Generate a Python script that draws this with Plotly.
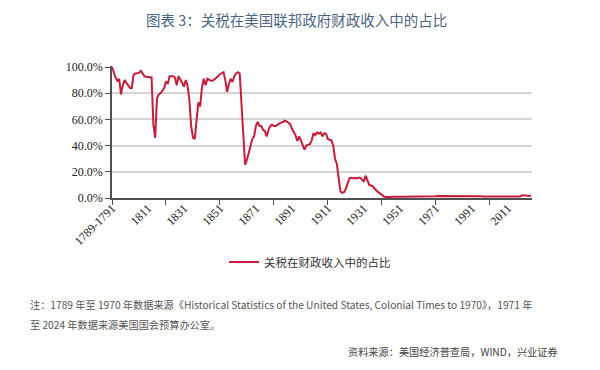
import plotly.graph_objects as go

# ---------------- data ----------------
first_year = 1791
last_year = 2024
years = list(range(first_year, last_year + 1))
category_labels = ["1789-1791"] + [str(y) for y in range(first_year + 1, last_year + 1)]

share_1791_1830 = [100, 95, 92, 89, 91, 79, 86, 90, 88, 85.5,
                   84, 84, 94, 95, 95, 95.5, 97, 95, 93, 92.5,
                   92.5, 92, 92, 56, 46, 76, 79, 80, 82, 84,
                   89, 87, 93, 93, 93, 92, 86, 93, 91, 88]
share_1831_1870 = [85, 90, 86, 75, 55, 46, 45, 58, 73, 70,
                   84, 91, 86, 91, 90, 89.5, 89.5, 90.5, 91.5, 93,
                   94.5, 95.5, 96, 90, 81, 87, 91, 88.5, 93, 95,
                   96, 95, 72, 46, 25.5, 29, 34, 38, 45, 47]
share_1871_1910 = [55, 58, 55, 55, 52, 51, 47, 52, 55, 56,
                   55, 55, 56, 57, 57.5, 58, 59, 58.5, 57.5, 56.5,
                   53, 50.5, 48, 43.5, 47, 44, 40, 37, 40, 40.5,
                   41, 44, 49.5, 48, 50, 49, 50, 47, 49.5, 49]
share_1911_1950 = [45, 44.5, 44, 40, 30, 26, 17, 5, 4, 4.5,
                   7, 12, 15, 15.5, 15, 15.5, 15, 15.5, 15.5, 14,
                   12.5, 17, 13, 10, 9.5, 9, 7, 5.5, 4.5, 3.5,
                   2.2, 1.3, 0.8, 0.7, 0.7, 0.8, 1.0, 1.1, 1.0, 1.1]
share_1951_1990 = [1.0, 0.9, 0.9, 0.9, 0.9, 1.0, 1.0, 1.0, 1.0, 1.2,
                   1.1, 1.2, 1.2, 1.2, 1.3, 1.4, 1.3, 1.3, 1.2, 1.2,
                   1.4, 1.5, 1.5, 1.3, 1.4, 1.3, 1.5, 1.5, 1.4, 1.4,
                   1.3, 1.4, 1.4, 1.7, 1.7, 1.8, 1.8, 1.8, 1.7, 1.7]
share_1991_2024 = [1.6, 1.6, 1.6, 1.6, 1.4, 1.3, 1.2, 1.1, 1.1, 1.0,
                   1.0, 1.0, 1.1, 1.2, 1.2, 1.0, 1.1, 1.1, 1.1, 1.2,
                   1.2, 1.2, 1.1, 1.1, 1.1, 1.1, 1.0, 1.2, 2.1, 2.0,
                   2.1, 2.0, 1.7, 1.6]

tariff_share = (share_1791_1830 + share_1831_1870 + share_1871_1910 +
                share_1911_1950 + share_1951_1990 + share_1991_2024)
assert len(tariff_share) == len(years)

label_years = [1791, 1811, 1831, 1851, 1871, 1891, 1911, 1931, 1951, 1971, 1991, 2011]
label_text = [category_labels[years.index(y)] for y in label_years]
tickmark_years = [1791, 1821, 1851, 1881, 1911, 1941, 1971, 2001]
y_ticks = [0, 20, 40, 60, 80, 100]
y_tick_text = ["0.0%", "20.0%", "40.0%", "60.0%", "80.0%", "100.0%"]

series_name = "关税在财政收入中的占比"
title_text = "图表 3：关税在美国联邦政府财政收入中的占比"
note_line1 = "注：1789 年至 1970 年数据来源《Historical Statistics of the United States, Colonial Times to 1970》，1971 年"
note_line2 = "至 2024 年数据来源美国国会预算办公室。"
source_text = "资料来源：美国经济普查局，WIND，兴业证券"

# ---------------- layout helpers ----------------
W, H = 600, 370
ML, MR, MT, MB = 112, 68, 66, 172
PW, PH = W - ML - MR, H - MT - MB
X_RANGE = [1791, 2024.5]


def px_x(px):
    return (px - ML) / PW


def px_y(py):
    return (H - MB - py) / PH


serif = "Liberation Serif, Times New Roman, serif"
cjk = "Noto Sans CJK SC, sans-serif"
line_color = "#c41e3a"
axis_color = "#505050"
grid_color = "#d4d4d4"

fig = go.Figure()
# the visible series (drawn against the labelled category axis)
fig.add_trace(go.Scatter(
    x=years, y=tariff_share, mode="lines", name=series_name,
    line=dict(color=line_color, width=2), xaxis="x2", yaxis="y",
    hoverinfo="skip",
))
# same series on the tick-mark axis, fully transparent, so that axis is drawn
fig.add_trace(go.Scatter(
    x=years, y=tariff_share, mode="lines", showlegend=False,
    line=dict(color="rgba(0,0,0,0)", width=0), xaxis="x", yaxis="y",
    hoverinfo="skip",
))

fig.update_layout(
    width=W, height=H,
    margin=dict(l=ML, r=MR, t=MT, b=MB, autoexpand=False),
    paper_bgcolor="white", plot_bgcolor="rgba(0,0,0,0)",
    showlegend=True,
    legend=dict(
        orientation="h", x=px_x(224), y=px_y(262), xanchor="left", yanchor="middle",
        font=dict(family=cjk, size=11.5, color="#333333"),
        bgcolor="rgba(0,0,0,0)", borderwidth=0,
    ),
    xaxis=dict(
        range=X_RANGE, showgrid=False, zeroline=False,
        showline=True, linecolor=axis_color, linewidth=1.5,
        tickmode="array", tickvals=tickmark_years, ticks="outside",
        ticklen=5, tickwidth=1.2, tickcolor=axis_color, showticklabels=False,
    ),
    xaxis2=dict(
        overlaying="x", anchor="y", side="bottom",
        range=X_RANGE, showgrid=False, zeroline=False, showline=False,
        tickmode="array", tickvals=label_years, ticktext=label_text,
        ticks="", tickangle=-45, showticklabels=True,
        tickfont=dict(family=serif, size=12, color="#222222"),
    ),
    yaxis=dict(
        range=[0, PH / 1.31], tickmode="array", tickvals=y_ticks, ticktext=y_tick_text,
        showgrid=True, gridcolor=grid_color, gridwidth=1.5,
        zeroline=False, showline=True, linecolor=axis_color, linewidth=1.5,
        ticks="outside", ticklen=5, tickwidth=1.2, tickcolor=axis_color,
        tickfont=dict(family=serif, size=12, color="#222222"),
    ),
)

annotations = [
    dict(text=title_text, x=px_x(296), y=px_y(19), xanchor="center", yanchor="middle",
         font=dict(family=cjk, size=14.5, color="#4b6685")),
    dict(text=note_line1, x=px_x(28), y=px_y(304), xanchor="left", yanchor="middle",
         font=dict(family=cjk, size=10.2, color="#555555")),
    dict(text=note_line2, x=px_x(28), y=px_y(324), xanchor="left", yanchor="middle",
         font=dict(family=cjk, size=10.2, color="#555555")),
    dict(text=source_text, x=px_x(346), y=px_y(351), xanchor="left", yanchor="middle",
         font=dict(family=cjk, size=10.2, color="#444444")),
]
for a in annotations:
    a.update(xref="paper", yref="paper", showarrow=False)
fig.update_layout(annotations=annotations)

fig.write_html("out.html", config={"displayModeBar": False},
               post_script="document.body.style.margin='0';")
